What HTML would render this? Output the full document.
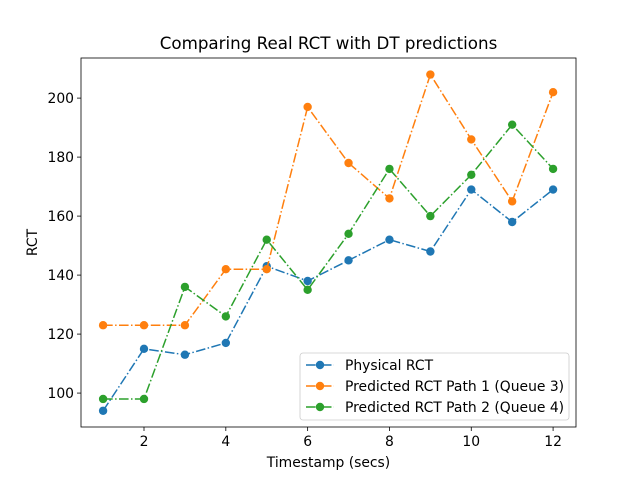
<!DOCTYPE html>
<html><head><meta charset="utf-8"><style>
body{margin:0;background:#fff;}
svg{font-family:"DejaVu Sans","Liberation Sans",sans-serif;}
</style></head><body>
<svg id="chart" width="640" height="480" xmlns="http://www.w3.org/2000/svg"></svg>
<script>
const xValues=[1,2,3,4,5,6,7,8,9,10,11,12];
const physical=[94,115,113,117,143,138,145,152,148,169,158,169];
const path1=[123,123,123,142,142,197,178,166,208,186,165,202];
const path2=[98,98,136,126,152,135,154,176,160,174,191,176];
const xTicks=[2,4,6,8,10,12];
const yTicks=[100,120,140,160,180,200];
const seriesNames=["Physical RCT","Predicted RCT Path 1 (Queue 3)","Predicted RCT Path 2 (Queue 4)"];
const colors=["#1f77b4","#ff7f0e","#2ca02c"];

const L=81,R=576,T=58,B=427;
const xMin=0.46,xMax=12.56,yMin=88.5,yMax=213.6;
const xs=v=>L+(v-xMin)/(xMax-xMin)*(R-L);
const ys=v=>B-(v-yMin)/(yMax-yMin)*(B-T);
const svg=document.getElementById('chart');
const NS="http://www.w3.org/2000/svg";
function mk(tag,attrs,parent){const e=document.createElementNS(NS,tag);for(const k in attrs)e.setAttribute(k,attrs[k]);(parent||svg).appendChild(e);return e;}

const title=mk('text',{x:(L+R)/2,y:49,'text-anchor':'middle','font-size':'16.7'});
title.textContent="Comparing Real RCT with DT predictions";



xTicks.forEach(t=>{
  const g=mk('g',{});
  
  
  mk('line',{x1:xs(t),x2:xs(t),y1:B,y2:B+4,stroke:'#000','stroke-width':0.8},g);
  const tx=mk('text',{x:xs(t),y:B+19,'text-anchor':'middle','font-size':'13.9'},g);tx.textContent=t;
});
yTicks.forEach(t=>{
  const g=mk('g',{});
  
  
  mk('line',{x1:L-4,x2:L,y1:ys(t),y2:ys(t),stroke:'#000','stroke-width':0.8},g);
  const tx=mk('text',{x:L-7,y:ys(t)+5,'text-anchor':'end','font-size':'13.9'},g);tx.textContent=t;
});
const xl=mk('text',{x:(L+R)/2,y:467,'text-anchor':'middle','font-size':'13.9'});xl.textContent="Timestamp (secs)";


const yl=mk('text',{x:0,y:0,'text-anchor':'middle','font-size':'13.9',transform:`translate(37,${(T+B)/2}) rotate(-90)`});yl.textContent="RCT";



[physical,path1,path2].forEach((data,i)=>{
  const g=mk('g',{});
  
  
  const pts=data.map((v,j)=>xs(xValues[j])+','+ys(v)).join(' ');
  mk('polyline',{points:pts,fill:'none',stroke:colors[i],'stroke-width':1.5,'stroke-dasharray':'9.6,2.4,1.5,2.4'},g);
  data.forEach((v,j)=>{
    const c=mk('circle',{cx:xs(xValues[j]),cy:ys(v),r:4.2,fill:colors[i]},g);
    
    
  });
});

const frame=mk('rect',{x:L,y:T,width:R-L,height:B-T,fill:'none',stroke:'#000','stroke-width':0.8});



const lg=mk('g',{});


mk('rect',{x:300,y:353,width:269,height:67,rx:3,fill:'#fff','fill-opacity':0.8,stroke:'#ccc','stroke-width':0.8},lg);
seriesNames.forEach((n,i)=>{
  const y=365+i*21;
  const e=mk('g',{},lg);
  
  
  mk('line',{x1:306,x2:334,y1:y,y2:y,stroke:colors[i],'stroke-width':1.5,'stroke-dasharray':'9.6,2.4,1.5,2.4'},e);
  mk('circle',{cx:320,cy:y,r:4.2,fill:colors[i]},e);
  const t=mk('text',{x:345,y:y+5,'font-size':'13.9'},e);t.textContent=n;
});
</script>
</body></html>
